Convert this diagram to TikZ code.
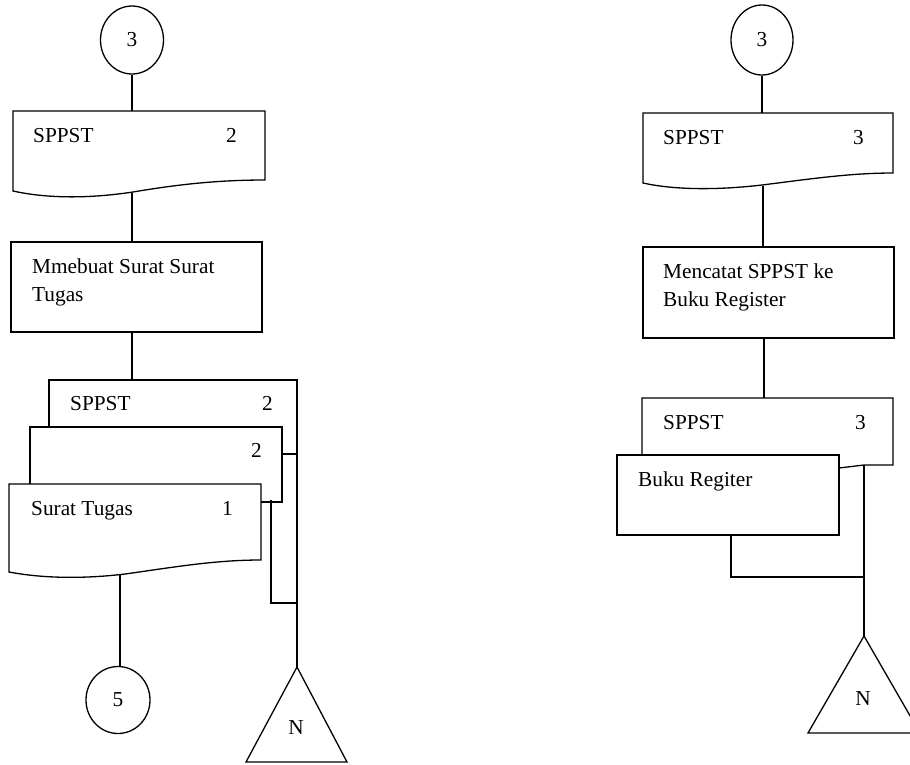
\documentclass[tikz,border=0pt]{standalone}
\usepackage{fontspec}
\setmainfont{Liberation Serif}
\usetikzlibrary{shapes.geometric}
\begin{document}
\begin{tikzpicture}[x=1pt,y=-1pt,
  shapeline/.style={draw=black, line width=1.3pt, line join=miter},
  conn/.style={draw=black, line width=1.3pt},
  lbl/.style={anchor=base west, inner sep=0pt, font=\fontsize{21.3}{28}\selectfont},
  connector/.style={shapeline, ellipse, inner sep=0pt, minimum width=63pt, minimum height=68pt, font=\fontsize{21.3}{24}\selectfont},
  procbox/.style={shapeline, rectangle, inner sep=0pt},
  tri/.style={inner sep=0pt, font=\fontsize{21.3}{24}\selectfont}
]
\useasboundingbox (0,0) rectangle (910,764);
\clip (0,0) rectangle (910,764);
\fill[white] (0,0) rectangle (910,764);

% ================= left column =================
\node[connector] (cA) at (132,40) {3};
\coordinate (dAtop) at (132,111);
\draw[conn] (cA.south) -- (dAtop);
\draw[shapeline] (13,191) -- (13,111) -- (265,111) -- (265,180)
  .. controls (220,180) and (180,184) .. (133,192)
  .. controls (80,200) and (40,197) .. cycle;
\node[lbl] (dAname) at (33,142) {SPPST};
\node[lbl] (dAnum) at (226,142) {2};

\coordinate (dAbot) at (132,193);
\node[procbox, minimum width=251pt, minimum height=90pt] (pA) at (136.5,287) {};
\draw[conn] (dAbot) -- (dAbot |- pA.north);
\node[lbl] (pAl1) at (32,273) {Mmebuat Surat Surat};
\node[lbl] (pAl2) at (32,301) {Tugas};

\coordinate (bAtop) at (132,380);
\draw[conn] (pA.south -| bAtop) -- (bAtop);
% back copy
\draw[shapeline] (49,427) -- (49,380) -- (297,380) -- (297,454) -- (282,454);
\node[lbl] (bAname) at (70,410) {SPPST};
\node[lbl] (bAnum) at (262,410) {2};
% middle copy
\draw[shapeline] (30,484) -- (30,427) -- (282,427) -- (282,502) -- (261,502);
\node[lbl] (mAnum) at (251,457) {2};
% front copy
\draw[shapeline] (9,572) -- (9,484) -- (261,484) -- (261,560)
  .. controls (215,560) and (175,567) .. (125,574)
  .. controls (75,580) and (35,577) .. cycle;
\node[lbl] (fAname) at (31,515) {Surat Tugas};
\node[lbl] (fAnum) at (222,515) {1};

% off-page connector 5
\node[connector, minimum width=64pt, minimum height=67pt] (cB) at (118,700) {5};
\coordinate (fAbot) at (120,575);
\draw[conn] (fAbot) -- (fAbot |- cB.north);

% file triangle N
\coordinate (tAapex) at (297,667);
\draw[shapeline] (tAapex) -- (347,762) -- (246,762) -- cycle;
\node[tri] (tAn) at (296,728) {N};
\coordinate (bAr) at (297,454);
\draw[conn] (bAr) -- (tAapex);
\coordinate (mAr) at (271,500);
\coordinate (mAj) at (297,603);
\draw[conn] (mAr) -- (mAr |- mAj) -- (mAj);

% ================= right column =================
\node[connector, minimum width=62pt, minimum height=70pt] (cC) at (762,40) {3};
\coordinate (dCtop) at (762,113);
\draw[conn] (cC.south) -- (dCtop);
\draw[shapeline] (643,183) -- (643,113) -- (893,113) -- (893,173)
  .. controls (850,173) and (810,179) .. (762,185)
  .. controls (710,191) and (670,189) .. cycle;
\node[lbl] (dCname) at (663,144) {SPPST};
\node[lbl] (dCnum) at (853,144) {3};

\coordinate (dCbot) at (763,186);
\node[procbox, minimum width=251pt, minimum height=91pt] (pC) at (768.5,292.5) {};
\draw[conn] (dCbot) -- (dCbot |- pC.north);
\node[lbl] (pCl1) at (663,278) {Mencatat SPPST ke};
\node[lbl] (pCl2) at (663,306) {Buku Register};

\coordinate (bCtop) at (764,398);
\draw[conn] (pC.south -| bCtop) -- (bCtop);
% SPPST copy behind book
\draw[shapeline] (642,455) -- (642,398) -- (893,398) -- (893,465) -- (864,465) -- (839,468);
\node[lbl] (bCname) at (663,429) {SPPST};
\node[lbl] (bCnum) at (855,429) {3};
% book register
\node[procbox, minimum width=222pt, minimum height=80pt] (bk) at (728,495) {};
\node[lbl] (bkl) at (638,486) {Buku Regiter};

% file triangle N
\coordinate (tCapex) at (864,636);
\draw[shapeline] (tCapex) -- (920,733) -- (808,733) -- cycle;
\node[tri] (tCn) at (863,699) {N};
\coordinate (bCr) at (864,465);
\draw[conn] (bCr) -- (tCapex);
\coordinate (bkj) at (864,577);
\coordinate (bkb) at (731,535);
\draw[conn] (bkb) -- (bkb |- bkj) -- (bkj);
\end{tikzpicture}
\end{document}
